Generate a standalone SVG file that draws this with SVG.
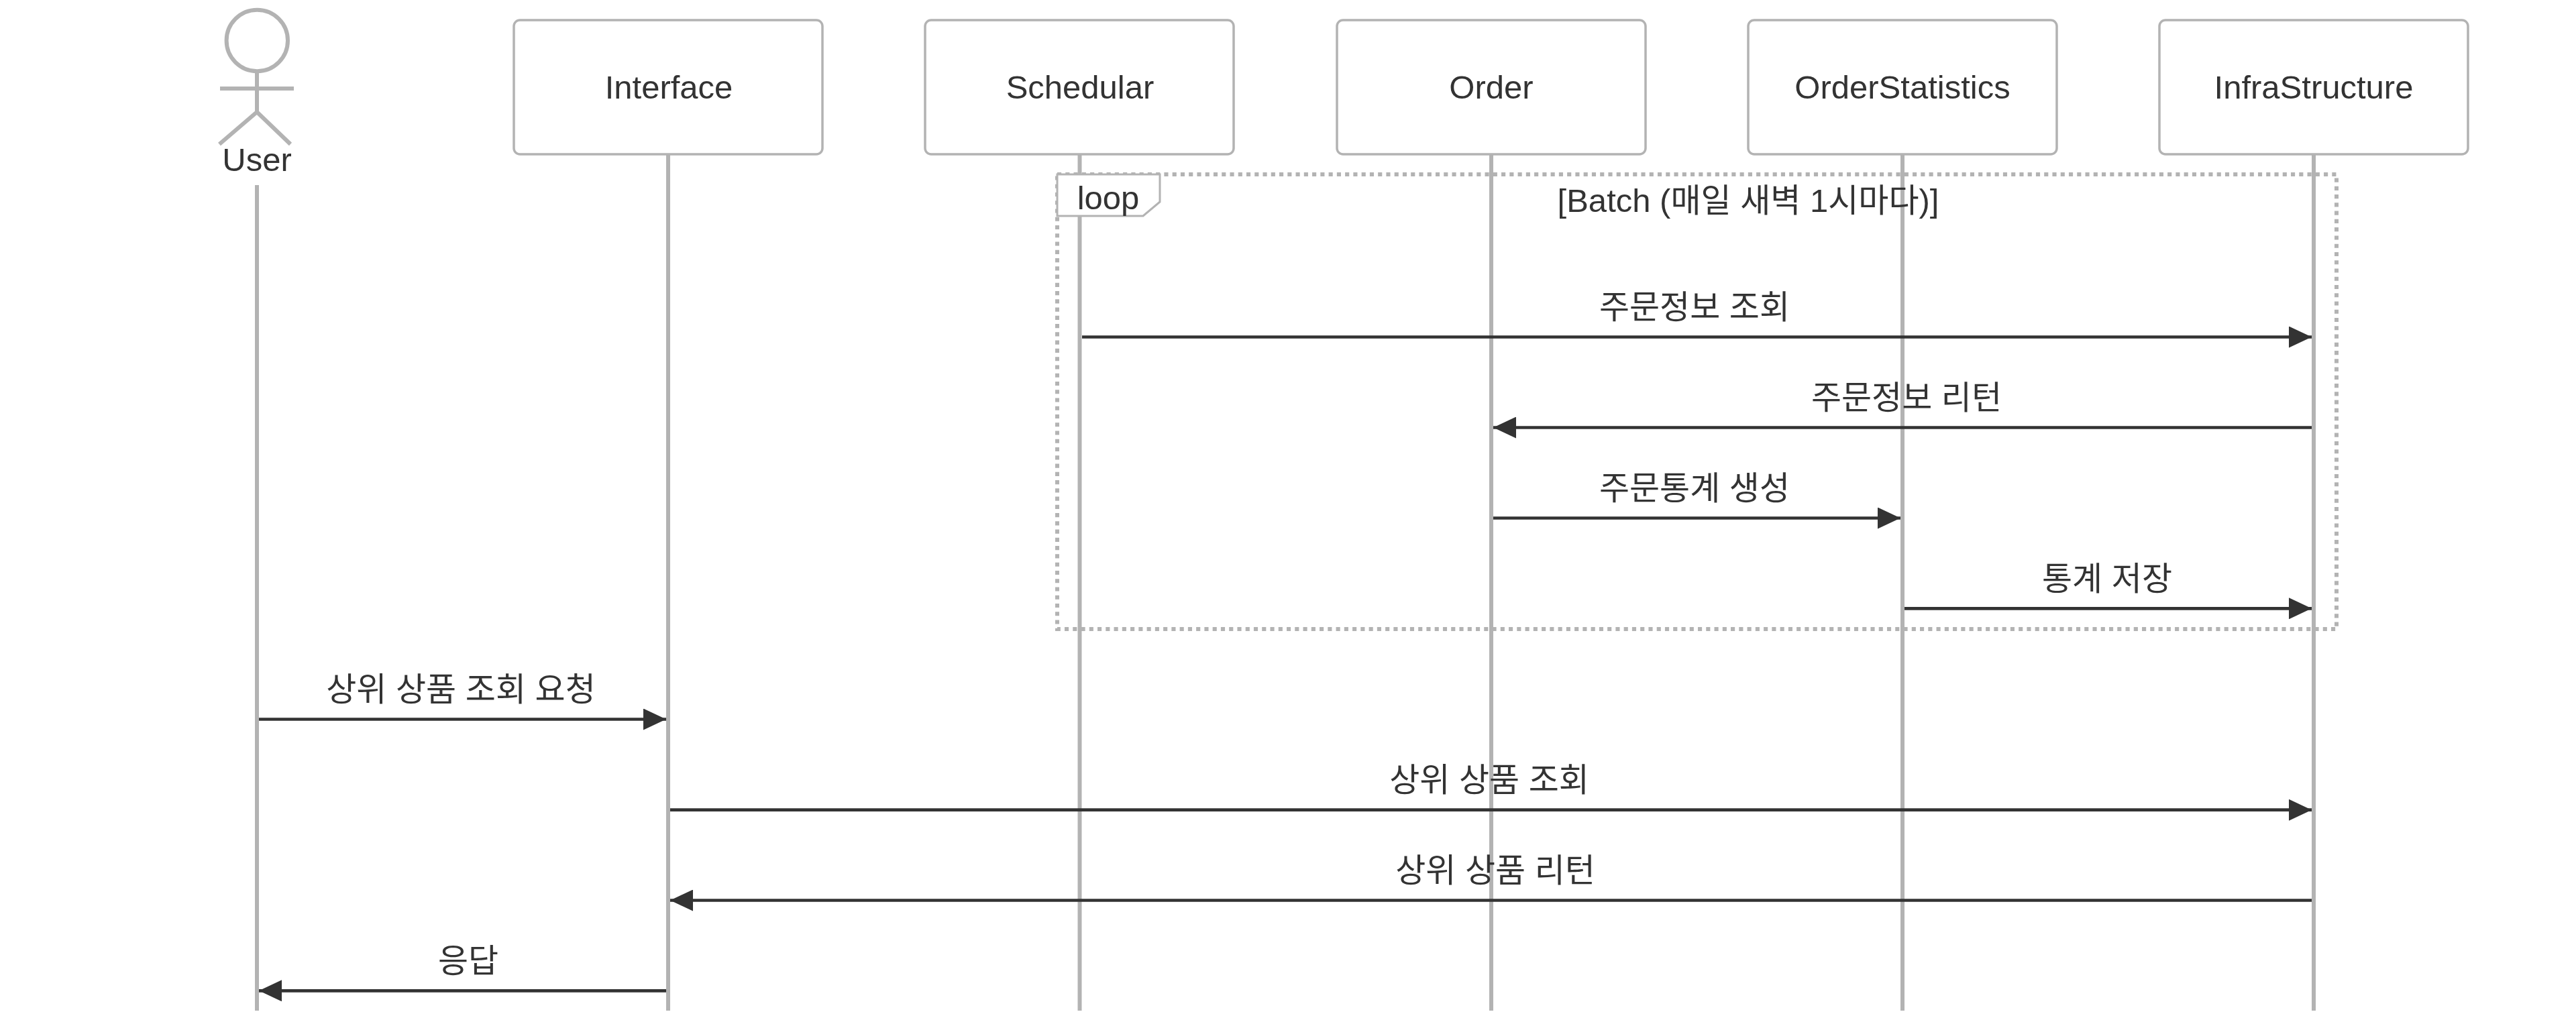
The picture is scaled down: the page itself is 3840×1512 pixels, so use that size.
<svg xmlns="http://www.w3.org/2000/svg" width="3840" height="1512" viewBox="0 0 3840 1512">
<style>
text{font-family:"Liberation Sans","Noto Sans CJK KR",Arial,sans-serif;font-size:49px;fill:#333;text-anchor:middle}
.box{fill:#fff;stroke:#b3b3b3;stroke-width:3.5}
.life{stroke:#b3b3b3;stroke-width:6;fill:none}
.actor{stroke:#b3b3b3;stroke-width:6;fill:none}
.msg{stroke:#333;stroke-width:4.7;fill:none}
.head{fill:#333}
.dot{fill:none;stroke:#b3b3b3;stroke-width:6;stroke-dasharray:6.13 6.13}
.tag{fill:#fff;stroke:#b3b3b3;stroke-width:3}
</style>
<defs>
<marker id="ah" markerUnits="userSpaceOnUse" markerWidth="34" markerHeight="32" refX="34" refY="16" orient="auto-start-reverse" viewBox="0 0 34 32"><path class="head" d="M0 0L34 16L0 32z"/></marker>
</defs>
<rect width="3840" height="1512" fill="#fff"/>
<g id="lifelines">
<line class="life" x1="383" y1="276" x2="383" y2="1507"/>
<line class="life" x1="996" y1="230" x2="996" y2="1507"/>
<line class="life" x1="1609.5" y1="230" x2="1609.5" y2="1507"/>
<line class="life" x1="2223" y1="230" x2="2223" y2="1507"/>
<line class="life" x1="2836" y1="230" x2="2836" y2="1507"/>
<line class="life" x1="3449" y1="230" x2="3449" y2="1507"/>
</g>
<g id="user">
<circle class="actor" cx="383.3" cy="60.5" r="45.7"/>
<path class="actor" d="M383 107V167M328 132H438M383 167L327 215M383 167L433 215"/>
<text x="383" y="255">User</text>
</g>
<g id="interface"><rect class="box" x="766" y="30" width="460" height="200" rx="9"/><text x="997" y="147">Interface</text></g>
<g id="schedular"><rect class="box" x="1379" y="30" width="460" height="200" rx="9"/><text x="1610" y="147">Schedular</text></g>
<g id="order"><rect class="box" x="1993" y="30" width="460" height="200" rx="9"/><text x="2223" y="147">Order</text></g>
<g id="orderstatistics"><rect class="box" x="2606" y="30" width="460" height="200" rx="9"/><text x="2836" y="147">OrderStatistics</text></g>
<g id="infrastructure"><rect class="box" x="3219" y="30" width="460" height="200" rx="9"/><text x="3449" y="147">InfraStructure</text></g>
<g id="loop">
<rect class="dot" x="1576" y="260" width="1907" height="678"/>
<path class="tag" d="M1576 260H1729V301L1704 322H1576z"/>
<text x="1652" y="312">loop</text>
<text x="2606" y="316">[Batch (매일 새벽 1시마다)]</text>
</g>
<g id="connectors">
<line class="msg" x1="1613" y1="502.5" x2="3446" y2="502.5" marker-end="url(#ah)"/>
<line class="msg" x1="3446" y1="637.5" x2="2226" y2="637.5" marker-end="url(#ah)"/>
<line class="msg" x1="2226" y1="772.5" x2="2833" y2="772.5" marker-end="url(#ah)"/>
<line class="msg" x1="2839" y1="907.3" x2="3446" y2="907.3" marker-end="url(#ah)"/>
<line class="msg" x1="386" y1="1072.5" x2="993" y2="1072.5" marker-end="url(#ah)"/>
<line class="msg" x1="999" y1="1207.7" x2="3446" y2="1207.7" marker-end="url(#ah)"/>
<line class="msg" x1="3446" y1="1342.5" x2="999" y2="1342.5" marker-end="url(#ah)"/>
<line class="msg" x1="993" y1="1477.3" x2="386" y2="1477.3" marker-end="url(#ah)"/>
</g>
<g id="labels">
<text x="2526" y="475">주문정보 조회</text>
<text x="2842" y="610">주문정보 리턴</text>
<text x="2526" y="745">주문통계 생성</text>
<text x="3141" y="880">통계 저장</text>
<text x="687" y="1045">상위 상품 조회 요청</text>
<text x="2220" y="1180">상위 상품 조회</text>
<text x="2229" y="1315">상위 상품 리턴</text>
<text x="698" y="1450">응답</text>
</g>
</svg>
